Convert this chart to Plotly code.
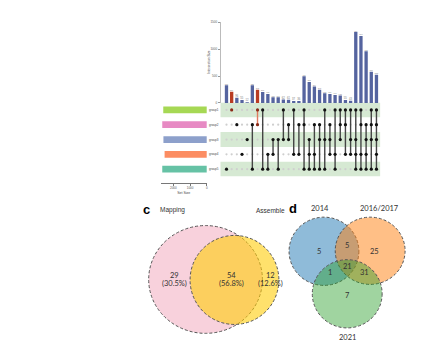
import plotly.graph_objects as go

W, H = 434, 358

# ---------------- data ----------------
set_names = ["group1", "group2", "group3", "group4", "group5"]
set_sizes = [2600, 2660, 2590, 2520, 2660]
set_colors = ["#a6d854", "#e78ac3", "#8da0cb", "#fc8d62", "#66c2a5"]

combo_members = ["5", "1", "2", "4", "3",
                 "25", "12", "15", "45", "34", "35", "13", "23", "14", "24",
                 "125", "345", "245", "235", "135", "234", "145", "123", "124", "134",
                 "1345", "1245", "2345", "1235", "12345"]
inter_sizes = [330, 206, 96, 55, 12,
               328, 245, 203, 168, 108, 106, 62, 61, 37, 36,
               497, 388, 304, 243, 180, 166, 147, 138, 55, 43,
               1316, 1245, 962, 577, 522]
highlighted = [1, 6]  # red columns

bar_ticks = [0, 500, 1000, 1500]
size_ticks = [0, 1000, 2000]

venn_c_labels = ["Mapping", "Assemble"]
venn_c_counts = [29, 54, 12]
venn_c_pcts = ["(30.5%)", "(56.8%)", "(12.6%)"]

venn_d_labels = ["2014", "2016/2017", "2021"]
venn_d_counts = {"A": 5, "AB": 5, "B": 25, "ABC": 21, "AC": 1, "BC": 31, "C": 7}

# ---------------- helpers ----------------
def px(x):
    return x / W

def py(y):
    return 1 - y / H

BLUE = "#55649f"
RED = "#b83c23"
STRIPE = "#d6e9d3"

fig = go.Figure()

n = len(inter_sizes)
xs = list(range(n))
bar_cols = [RED if i in highlighted else BLUE for i in xs]

# intersection bars
fig.add_trace(go.Bar(
    x=xs, y=inter_sizes, marker_color=bar_cols, marker_line_width=0,
    width=0.64, text=[str(v) for v in inter_sizes], textposition="outside",
    textfont=dict(size=3, color="#777"), cliponaxis=False,
    xaxis="x", yaxis="y", showlegend=False, hoverinfo="skip"))

# matrix background dots
gx, gy = [], []
for i in xs:
    for r in range(5):
        gx.append(i)
        gy.append(r)
fig.add_trace(go.Scatter(x=gx, y=gy, mode="markers",
                         marker=dict(size=2.2, color="#cfcfcf"),
                         xaxis="x", yaxis="y2", showlegend=False, hoverinfo="skip"))

# matrix lines and dots
for hl in (False, True):
    lx, ly, dx, dy = [], [], [], []
    for i, m in enumerate(combo_members):
        if (i in highlighted) != hl:
            continue
        rows = [int(c) - 1 for c in m]
        if len(rows) > 1:
            lx += [i, i, None]
            ly += [min(rows), max(rows), None]
        for r in rows:
            dx.append(i)
            dy.append(r)
    col_line = "#e07a5f" if hl else "#444444"
    col_dot = "#8b2a17" if hl else "#111111"
    fig.add_trace(go.Scatter(x=lx, y=ly, mode="lines",
                             line=dict(color=col_line, width=1.4),
                             xaxis="x", yaxis="y2", showlegend=False, hoverinfo="skip"))
    fig.add_trace(go.Scatter(x=dx, y=dy, mode="markers",
                             marker=dict(size=3.2, color=col_dot),
                             xaxis="x", yaxis="y2", showlegend=False, hoverinfo="skip"))

# set size bars
fig.add_trace(go.Bar(x=set_sizes, y=list(range(5)), orientation="h",
                     marker_color=set_colors, marker_line_width=0, width=0.46,
                     xaxis="x3", yaxis="y3", showlegend=False, hoverinfo="skip"))

# ---------------- layout ----------------
x_left, x_right = 213, 373
c0, cstep = 219, 5.183
xr = [(x_left - c0) / cstep, (x_right - c0) / cstep]

row0, rstep = 101, 15
mat_top, mat_bot = 93.5, 168.5

shapes = []
for r in (0, 2, 4):
    shapes.append(dict(type="rect", xref="paper", yref="y2",
                       x0=px(x_left), x1=px(x_right), y0=r - 0.5, y1=r + 0.5,
                       fillcolor=STRIPE, line_width=0, layer="below"))

# Venn circles
def circ(cx, cy, rx, ry, fill):
    return dict(type="circle", xref="paper", yref="paper",
                x0=px(cx - rx), x1=px(cx + rx), y0=py(cy + ry), y1=py(cy - ry),
                fillcolor=fill, line=dict(color="#555", width=1, dash="3px,2px"),
                layer="above")

shapes.append(circ(198, 272.5, 57, 54.5, "rgba(239,154,178,0.45)"))
shapes.append(circ(227, 273, 44.5, 45, "rgba(255,205,10,0.6)"))
shapes.append(circ(316.7, 244, 35, 34.5, "rgba(31,119,180,0.5)"))
shapes.append(circ(363, 243.5, 35, 34, "rgba(255,127,14,0.5)"))
shapes.append(circ(340, 287, 35, 34.5, "rgba(44,160,44,0.45)"))

ann = []
def text(x, y, s, size, color="#333", family="Liberation Sans", bold=False, angle=0):
    if bold:
        s = "<b>" + s + "</b>"
    ann.append(dict(x=px(x), y=py(y), xref="paper", yref="paper", text=s,
                    showarrow=False, font=dict(size=size, color=color, family=family),
                    xanchor="center", yanchor="middle", textangle=angle))

for r, name in enumerate(set_names):
    text(206, row0 + rstep * r, name, 3, color="#444")
text(202, 53, "Intersection Size", 3.2, color="#444", angle=-90)

# Venn c texts
text(139, 201.5, "c", 13, color="#000", bold=True)
text(165, 202.5, venn_c_labels[0], 6.5)
text(263, 203, venn_c_labels[1], 6.5)
vc_x = [167.3, 224.2, 263]
for i in range(3):
    text(vc_x[i], 269, str(venn_c_counts[i]), 7.5, family="Lato")
    text(vc_x[i], 277, venn_c_pcts[i], 7.5, family="Lato")

# Venn d texts
text(286, 200.5, "d", 13, color="#000", bold=True)
text(312.3, 201, venn_d_labels[0], 7.5, family="Lato")
text(372, 201, venn_d_labels[1], 7.5, family="Lato")
text(340, 331, venn_d_labels[2], 7.5, family="Lato")
d_pos = {"A": (311.7, 244.3), "AB": (340, 238.3), "B": (367.7, 244.3),
         "ABC": (340, 259), "AC": (322.3, 265.7), "BC": (357.3, 265.7), "C": (340, 288.3)}
for k, (x, y) in d_pos.items():
    text(x, y, str(venn_d_counts[k]), 7.5, family="Lato")

size_left, size_zero, px_per_1000 = 153, 199.3, 16.8
size_axis_bottom = 175

fig.update_layout(
    width=W, height=H, margin=dict(l=0, r=0, t=0, b=0, pad=0),
    paper_bgcolor="white", plot_bgcolor="rgba(0,0,0,0)",
    bargap=0.3, shapes=shapes, annotations=ann,
    font=dict(family="Liberation Sans", color="#444"),
    xaxis=dict(domain=[px(x_left), px(x_right)], range=xr, visible=False,
               anchor="y", fixedrange=True),
    yaxis=dict(domain=[py(94), py(12.3)], range=[0, 1500], anchor="x",
               tickvals=bar_ticks, ticktext=[str(t) for t in bar_ticks],
               ticks="outside", ticklen=2, tickwidth=0.6, tickcolor="#999",
               tickfont=dict(size=3, color="#555"), showline=True, linecolor="#bbb",
               linewidth=0.6, showgrid=False, zeroline=False),
    yaxis2=dict(domain=[py(mat_bot), py(mat_top)], range=[4.5, -0.5], anchor="x",
                visible=False),
    xaxis3=dict(domain=[px(size_left), px(size_zero)],
                range=[(size_zero - size_left) / px_per_1000 * 1000, 0], anchor="y3",
                tickvals=size_ticks, ticktext=[str(t) for t in size_ticks],
                ticks="outside", ticklen=2, tickwidth=0.6, tickcolor="#777",
                tickfont=dict(size=3, color="#555"), showline=True, linecolor="#777",
                linewidth=0.6, showgrid=False, zeroline=False,
                title=dict(text="Set Size", font=dict(size=3.5, color="#444"), standoff=2)),
    yaxis3=dict(domain=[py(size_axis_bottom), py(mat_top)],
                range=[(size_axis_bottom - row0) / rstep, -0.5], anchor="x3",
                visible=False),
)

fig.write_html("out.html")
